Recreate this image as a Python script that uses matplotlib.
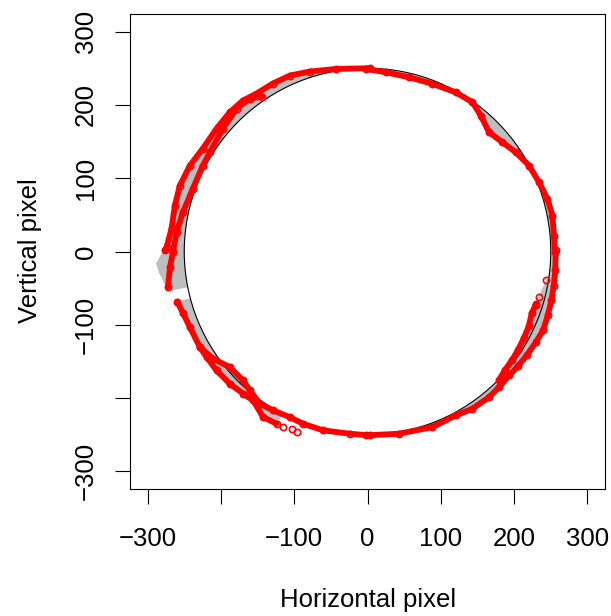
import numpy as np
import matplotlib.pyplot as plt
from matplotlib.patches import Circle
from matplotlib.collections import LineCollection

plt.rcParams['font.family'] = ['Liberation Sans', 'DejaVu Sans']

TARGET_R = 250  # radius of the target circle

ticks = [-300, -200, -100, 0, 100, 200, 300]
xtick_labels = ['\u2212300', '', '\u2212100', '0', '100', '200', '300']
ytick_labels = ['\u2212300', '', '\u2212100', '0', '100', '200', '300']

upper_left_outer_x = [3.1, -42.3, -78.7, -106.0, -129.2, -151.4, -170.0, -187.8,
                      -205.9, -224.6, -242.3, -256.0, -262.8, -267.3, -274.1, -276.4]
upper_left_outer_y = [250.0, 249.1, 245.5, 240.0, 229.1, 215.5, 205.9, 190.0,
                      167.7, 140.5, 117.3, 90.0, 62.7, 31.4, 5.9, 1.4]

left_inner_x = [-143.6, -160.5, -178.6, -197.3, -215.0, -224.6, -238.2, -251.8,
                -260.5, -265.5, -269.4, -272.3]
left_inner_y = [211.4, 208.6, 195.0, 167.7, 135.4, 117.3, 85.9, 53.6,
                26.3, -1.0, -21.4, -48.7]

lower_left_x = [-259.3, -251.5, -242.3, -228.7, -219.5, -205.9, -187.8, -169.6,
                -156.0, -142.4, -124.1]
lower_left_y = [-69.1, -84.5, -103.2, -130.5, -144.1, -162.3, -180.4, -194.0,
                -203.2, -225.9, -235.0]

lower_left_inner_x = [-228.7, -210.5, -187.8, -169.6, -160.5, -146.9, -128.7, -106.0,
                      -87.8, -60.5, -24.1, 3.1]
lower_left_inner_y = [-130.5, -146.3, -157.8, -175.9, -189.5, -207.7, -216.8, -226.0,
                      -235.0, -244.0, -248.6, -250.9]

bottom_right_x = [-2.3, 42.7, 88.6, 120.4, 143.2, 165.8, 179.5, 193.1, 205.0, 217.2,
                  229.5, 239.5, 245.9, 250.9, 254.1, 256.1, 256.8]
bottom_right_y = [-250.9, -248.6, -239.6, -223.6, -214.5, -198.7, -185.0, -169.1,
                  -156.8, -141.8, -124.1, -107.7, -87.3, -66.8, -46.4, -25.9, 1.4]

right_inner_x = [229.5, 224.0, 219.9, 213.1, 205.0, 196.8, 187.2, 179.0]
right_inner_y = [-72.3, -84.5, -102.3, -118.6, -135.0, -148.6, -162.3, -175.9]

right_saccade_x = [254.1, 244.1, 234.0, 229.5]
right_saccade_y = [-20.0, -39.5, -62.3, -72.7]

upper_right_x = [255.8, 254.4, 252.3, 245.5, 234.0, 220.4, 202.2, 184.1, 165.8, 154.5,
                 143.2, 120.4, 88.6, 56.7, 25.0, -2.3]
upper_right_y = [-1.0, 21.8, 49.1, 71.9, 94.5, 117.3, 135.4, 149.0, 162.7, 185.5,
                 203.6, 217.2, 228.7, 237.7, 244.5, 249.1]

stray_x = [-103.6, -96.8, -115.0]
stray_y = [-241.8, -246.4, -240.0]

# samples without a marker (only the gray lines show them)
spike_x = [-274.0, -281.0, -288.5, -284.0, -278.0, -271.9]
spike_y = [10.5, -3.0, -16.4, -30.0, -42.0, -53.2]

red_strands = [(upper_left_outer_x, upper_left_outer_y),
               (left_inner_x, left_inner_y),
               (lower_left_x, lower_left_y),
               (lower_left_inner_x, lower_left_inner_y),
               (bottom_right_x, bottom_right_y),
               (right_inner_x, right_inner_y),
               (upper_right_x, upper_right_y)]

fig = plt.figure(figsize=(6.11, 6.16), dpi=100)
ax = fig.add_axes([130 / 611, 1 - 489 / 616, 475 / 611, 475 / 616])

GRAY = '#BEBEBE'


def on_target(xs, ys):
    a = np.arctan2(ys, xs)
    return TARGET_R * np.cos(a), TARGET_R * np.sin(a)


def gray_band(xs, ys):
    xs = np.asarray(xs, float)
    ys = np.asarray(ys, float)
    cx, cy = on_target(xs, ys)
    ax.fill(np.r_[xs, cx[::-1]], np.r_[ys, cy[::-1]], color=GRAY, lw=0, zorder=1)
    segs = [[(a, b), (c, d)] for a, b, c, d in zip(xs, ys, cx, cy)]
    ax.add_collection(LineCollection(segs, colors=GRAY, linewidths=0.8, zorder=1))


for sx, sy in red_strands:
    gray_band(sx, sy)
gray_band(spike_x, spike_y)
gray_band(right_saccade_x, right_saccade_y)
ax.plot(right_saccade_x, right_saccade_y, color=GRAY, lw=0.8, zorder=1)

ax.add_patch(Circle((0, 0), TARGET_R, fill=False, ec='black', lw=0.8, zorder=2))

for sx, sy in red_strands:
    ax.plot(sx, sy, color='red', lw=4.2, solid_capstyle='round',
            solid_joinstyle='round', zorder=3)
    ax.plot(sx, sy, 'o', mfc='none', mec='red', ms=4.5, mew=1.2, zorder=3)
ax.plot(right_saccade_x[1:], right_saccade_y[1:], 'o', mfc='none', mec='red',
        ms=4.5, mew=1.2, zorder=3)
ax.plot(stray_x, stray_y, 'o', mfc='none', mec='red', ms=4.5, mew=1.2, zorder=3)

ax.set_xlim(-324, 324)
ax.set_ylim(-324, 324)
ax.set_xticks(ticks)
ax.set_xticklabels(xtick_labels)
ax.set_yticks(ticks)
ax.set_yticklabels(ytick_labels, rotation=90, va='center')
ax.tick_params(axis='both', length=11, width=0.8, labelsize=18.5, direction='out')
ax.tick_params(axis='x', pad=16)
ax.tick_params(axis='y', pad=12)
for s in ax.spines.values():
    s.set_linewidth(0.8)

fig.text(367.7 / 611, 1 - 600 / 616, 'Horizontal pixel', ha='center', va='center',
         fontsize=18.5)
fig.text(30 / 611, 1 - 251 / 616, 'Vertical pixel', ha='center', va='center',
         rotation=90, fontsize=18.5)

fig.savefig('out.png', dpi=100)
